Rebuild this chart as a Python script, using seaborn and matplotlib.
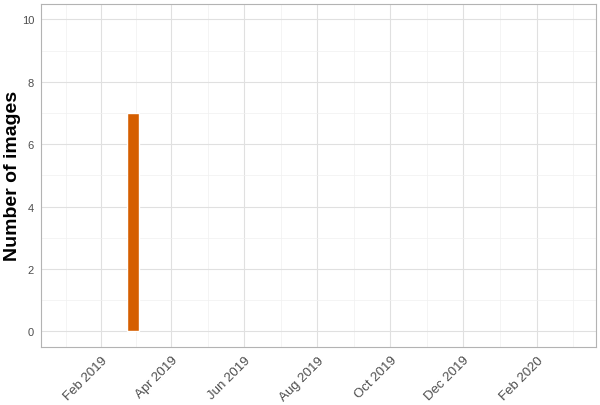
import matplotlib
matplotlib.use("Agg")
import matplotlib.pyplot as plt
import matplotlib.dates as mdates
import seaborn as sns
import pandas as pd
import numpy as np

# data
dates = ["2019-02-28"]
counts = [7]
x_start = "2018-12-13"
x_end = "2020-03-21"
major_ticks = ["2019-02-01", "2019-04-01", "2019-06-01", "2019-08-01",
               "2019-10-01", "2019-12-01", "2020-02-01"]
tick_labels = ["Feb 2019", "Apr 2019", "Jun 2019", "Aug 2019",
               "Oct 2019", "Dec 2019", "Feb 2020"]
y_ticks = [0, 2, 4, 6, 8, 10]

sns.set_theme(style="white")
plt.rcParams['font.family'] = ['Liberation Sans', 'DejaVu Sans']

df = pd.DataFrame({"date": pd.to_datetime(dates), "n": counts})

fig = plt.figure(figsize=(6.0, 4.06), dpi=100)
ax = fig.add_axes([0.0683, 0.143, 0.925, 0.845])

xnum = mdates.date2num(df["date"])
ax.bar(xnum, df["n"], width=9.5, color="#D55E00", zorder=3)

major = mdates.date2num(pd.to_datetime(major_ticks))
minor = (major[:-1] + major[1:]) / 2
minor = np.concatenate([[major[0] - (major[1] - major[0]) / 2], minor,
                        [major[-1] + (major[1] - major[0]) / 2]])
ax.set_xlim(mdates.date2num(pd.Timestamp(x_start)), mdates.date2num(pd.Timestamp(x_end)))
ax.set_xticks(major)
ax.set_xticklabels(tick_labels, rotation=45, ha="right", rotation_mode="anchor",
                   fontsize=9.5, color="#4d4d4d")
ax.set_xticks(minor, minor=True)
ax.set_ylim(-0.5, 10.5)
ax.set_yticks(y_ticks)
ax.set_yticklabels([str(v) for v in y_ticks], fontsize=8, color="#4d4d4d")
ax.set_yticks([1, 3, 5, 7, 9], minor=True)

ax.grid(which="major", color="#e0e0e0", linewidth=0.8, zorder=0)
ax.grid(which="minor", color="#f0f0f0", linewidth=0.5, zorder=0)
ax.set_axisbelow(True)
for s in ax.spines.values():
    s.set_color("#b3b3b3")
    s.set_linewidth(0.8)
ax.tick_params(which="major", length=3, color="#b3b3b3", width=0.6, pad=2)
ax.tick_params(which="minor", length=0)

ax.set_xlabel("")
ax.set_ylabel("Number of images", fontsize=14, fontweight="bold", color="black")
ax.yaxis.set_label_coords(-0.036, 0.5)

fig.savefig("out.png", dpi=100)
